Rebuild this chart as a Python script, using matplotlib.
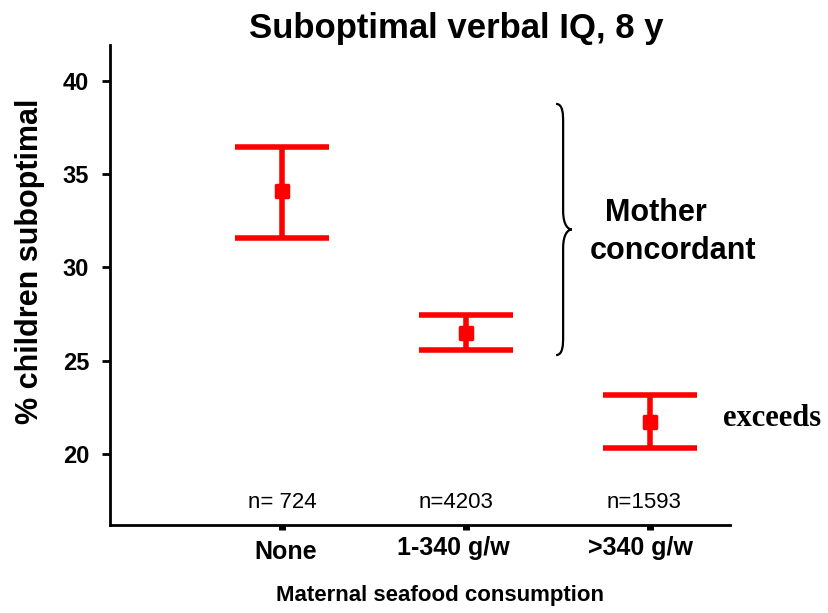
import numpy as np
import matplotlib.pyplot as plt
from matplotlib.path import Path
from matplotlib.patches import PathPatch
from matplotlib.markers import MarkerStyle

plt.rcParams['font.family'] = ['Liberation Sans', 'DejaVu Sans']

# Percent of children with suboptimal verbal IQ by maternal seafood intake
categories = ["None", "1-340 g/w", ">340 g/w"]
sample_sizes = ["n= 724", "n=4203", "n=1593"]
estimates = [34.1, 26.5, 21.7]
ci_low = [31.55, 25.55, 20.3]
ci_high = [36.45, 27.45, 23.15]

x = np.arange(1, len(categories) + 1)
est = np.array(estimates)
yerr = [est - np.array(ci_low), np.array(ci_high) - est]

fig = plt.figure(figsize=(8.29, 6.13), dpi=100)
ax = fig.add_axes([0.1327, 0.1435, 0.7478, 0.7830])

ax.errorbar(x, est, yerr=yerr, fmt='none', ecolor='red',
            elinewidth=4, capsize=34, capthick=4)
ax.plot(x, est, linestyle='none', color='red',
        marker=MarkerStyle('s', joinstyle='round'),
        markersize=9, markeredgewidth=2.5)

ax.set_xlim(0.065, 3.435)
ax.set_ylim(16.2, 41.9)
ax.set_yticks([20, 25, 30, 35, 40])
ax.set_xticks(x)
ax.set_xticklabels([])

for s in ['top', 'right']:
    ax.spines[s].set_visible(False)
for s in ['left', 'bottom']:
    ax.spines[s].set_linewidth(2)

ax.tick_params(axis='y', direction='out', length=6, width=2, pad=9,
               labelsize=17)
for lab in ax.get_yticklabels():
    lab.set_fontweight('bold')
ax.tick_params(axis='x', direction='out', length=3.5, width=5)

# category labels sit slightly off their ticks, "None" a little lower
label_dx = [3, -9, -7]
label_y = [-0.056, -0.047, -0.047]
for xi, name, dx, yy in zip(x, categories, label_dx, label_y):
    ax.annotate(name, (xi, yy), xycoords=ax.get_xaxis_transform(),
                xytext=(dx, 0), textcoords='offset points',
                ha='center', va='center', fontsize=18, fontweight='bold',
                annotation_clip=False)

n_dx = [0, -7, -4]
for xi, n, dx in zip(x, sample_sizes, n_dx):
    ax.annotate(n, (xi, 0.046), xycoords=ax.get_xaxis_transform(),
                xytext=(dx, 0), textcoords='offset points',
                ha='center', va='center', fontsize=16)

fig.text(0.036, 0.573, "% children suboptimal", rotation=90,
         ha='center', va='center', fontsize=22, fontweight='bold')
fig.text(0.531, 0.028, "Maternal seafood consumption", ha='center',
         va='center', fontsize=16, fontweight='bold')
fig.text(0.551, 0.953, "Suboptimal verbal IQ, 8 y", ha='center',
         va='center', fontsize=25, fontweight='bold')

# curly brace grouping the first two groups
bx, tip, top, bot = 2.49, 2.575, 38.75, 25.3
mid = (top + bot) / 2
w = tip - bx
verts = [
    (bx, top), (bx + w * 0.45, top), (bx + w * 0.45, top - 0.6),
    (bx + w * 0.45, top - 1.0),
    (bx + w * 0.45, mid + 1.0),
    (bx + w * 0.45, mid + 0.2), (tip - w * 0.2, mid), (tip, mid),
    (tip - w * 0.2, mid), (bx + w * 0.45, mid - 0.2), (bx + w * 0.45, mid - 1.0),
    (bx + w * 0.45, bot + 1.0),
    (bx + w * 0.45, bot + 0.6), (bx + w * 0.45, bot), (bx, bot),
]
codes = [Path.MOVETO, Path.CURVE4, Path.CURVE4, Path.CURVE4,
         Path.LINETO,
         Path.CURVE4, Path.CURVE4, Path.CURVE4,
         Path.CURVE4, Path.CURVE4, Path.CURVE4,
         Path.LINETO,
         Path.CURVE4, Path.CURVE4, Path.CURVE4]
ax.add_patch(PathPatch(Path(verts, codes), fill=False, lw=1.6,
                       color='black', clip_on=False))

ax.text(3.03, 32.9, "Mother", ha='center', va='center', fontsize=22,
        fontweight='bold', clip_on=False)
ax.text(3.125, 30.85, "concordant", ha='center', va='center', fontsize=22,
        fontweight='bold', clip_on=False)
ax.text(3.397, 21.9, "exceeds", ha='left', va='center', fontsize=22,
        fontweight='bold', family=['Liberation Serif', 'DejaVu Serif'],
        clip_on=False)

fig.savefig("out.png", dpi=100)
